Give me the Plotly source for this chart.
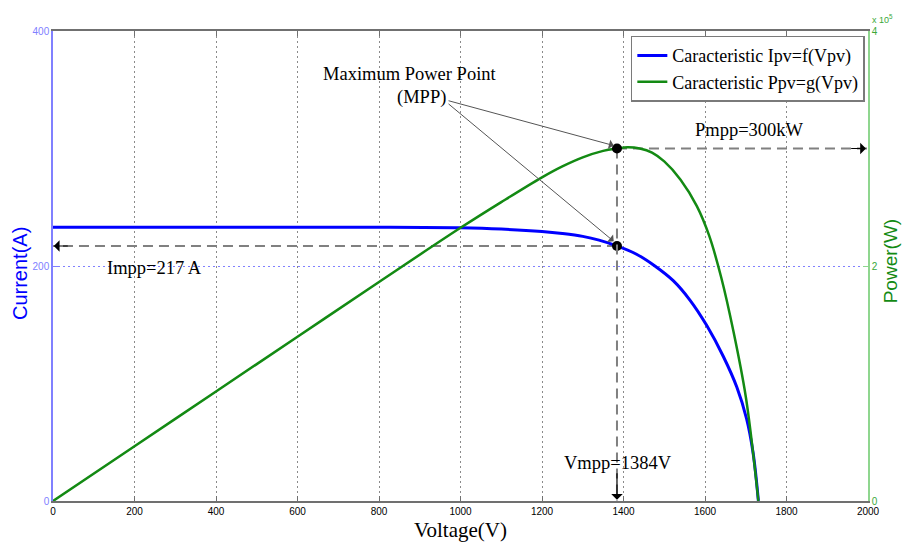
import plotly.graph_objects as go

# I-V characteristic (voltage in V, current in A)
v_current = [0, 200, 400, 600, 800, 1000, 1100, 1200, 1250, 1300, 1340, 1384,
             1432, 1477, 1522, 1563, 1604, 1645, 1678, 1702, 1718, 1731]
current = [233, 233, 233, 233, 233, 232.5, 231.4, 229.3, 227.6, 225.2, 222.0, 217,
           210, 200, 187.5, 171, 149.5, 123, 97, 70, 41, 0]

# P-V characteristic (voltage in V, power in kW)
v_power = [0, 200, 400, 600, 800, 1000, 1100, 1200, 1250, 1300, 1350, 1384, 1410,
           1440, 1470, 1500, 1540, 1580, 1610, 1640, 1670, 1700, 1720, 1731]
power_kw = [0, 46.6, 93.2, 139.8, 186.4, 232.5, 254.4, 275.5, 284.8, 292.5, 298.0,
            300.0, 301.0, 300.0, 296.5, 289, 273.5, 251, 226, 190, 144, 89, 35, 0]

# Maximum power point
v_mpp = 1384
i_mpp = 217
p_mpp_kw = 300

x_ticks = [0, 200, 400, 600, 800, 1000, 1200, 1400, 1600, 1800, 2000]
i_ticks = [0, 200, 400]
p_ticks = [0, 200000, 400000]
p_tick_text = ["0", "2", "4"]

BLUE = "#0000ff"
GREEN = "#138a13"
GRAY = "#808080"
AX_BLUE = "#8080ff"
AX_GREEN = "#8fd68f"
SERIF = "Liberation Serif, Times New Roman, serif"
SANS = "Liberation Sans, Arial, sans-serif"
NARROW = "Liberation Sans Narrow, Liberation Sans, Arial, sans-serif"
LABEL_SIZE = 18.5

power_w = [p * 1000 for p in power_kw]

fig = go.Figure()

# Dashed guide lines through the MPP
guide = dict(color=GRAY, width=2, dash="10px,6px")
fig.add_trace(go.Scatter(x=[v_mpp, 0], y=[i_mpp, i_mpp], mode="lines", line=guide,
                         showlegend=False, hoverinfo="skip"))
fig.add_trace(go.Scatter(x=[v_mpp, 2000], y=[p_mpp_kw * 1000] * 2, mode="lines",
                         line=guide, showlegend=False, hoverinfo="skip", yaxis="y2"))
fig.add_trace(go.Scatter(x=[v_mpp, v_mpp], y=[p_mpp_kw * 1000, 0], mode="lines",
                         line=guide, showlegend=False, hoverinfo="skip", yaxis="y2"))

fig.add_trace(go.Scatter(x=v_current, y=current, mode="lines",
                         name="Caracteristic Ipv=f(Vpv)",
                         line=dict(color=BLUE, width=3, shape="spline", smoothing=1.0)))
fig.add_trace(go.Scatter(x=v_power, y=power_w, mode="lines",
                         name="Caracteristic Ppv=g(Vpv)", yaxis="y2",
                         line=dict(color=GREEN, width=2.5, shape="spline", smoothing=1.0)))

# MPP markers
fig.add_trace(go.Scatter(x=[v_mpp], y=[i_mpp], mode="markers",
                         marker=dict(color="black", size=10),
                         showlegend=False, hoverinfo="skip"))
fig.add_trace(go.Scatter(x=[v_mpp], y=[p_mpp_kw * 1000], mode="markers",
                         marker=dict(color="black", size=10), yaxis="y2",
                         showlegend=False, hoverinfo="skip"))

label_font = dict(family=SERIF, size=LABEL_SIZE, color="black")
annotations = [
    # axis titles
    dict(text="Voltage(V)", x=0.5, y=-0.062, xref="paper", yref="paper",
         showarrow=False, yanchor="middle", font=dict(family=SERIF, size=21, color="black")),
    dict(text="Current(A)", x=-0.0405, y=0.485, xref="paper", yref="paper",
         showarrow=False, textangle=-90, xanchor="center", yanchor="middle",
         font=dict(family=SANS, size=20, color=BLUE)),
    dict(text="Power(W)", x=1.027, y=0.51, xref="paper", yref="paper",
         showarrow=False, textangle=-90, xanchor="center", yanchor="middle",
         font=dict(family=SANS, size=19, color=GREEN)),
    dict(text="x 10<sup>5</sup>", x=1.0, y=1.0, xref="paper", yref="paper",
         showarrow=False, xanchor="left", yanchor="bottom", xshift=2, yshift=4,
         font=dict(family=NARROW, size=9, color="#3aa83a")),
    # MPP labels
    dict(text="Maximum Power Point", x=876, y=363, xref="x", yref="y",
         showarrow=False, xanchor="center", yanchor="middle", font=label_font),
    dict(text="(MPP)", x=905, y=343, xref="x", yref="y",
         showarrow=False, xanchor="center", yanchor="middle", font=label_font),
    dict(text="Pmpp=300kW", x=1708, y=315600, xref="x", yref="y2",
         showarrow=False, xanchor="center", yanchor="middle", font=label_font),
    dict(text="Impp=217 A", x=248, y=198.7, xref="x", yref="y",
         showarrow=False, xanchor="center", yanchor="middle", font=label_font),
    dict(text="Vmpp=1384V", x=1386, y=32.4, xref="x", yref="y",
         showarrow=False, xanchor="center", yanchor="middle", font=label_font),
    # arrows from the MPP label
    dict(text="", x=v_mpp - 8, y=p_mpp_kw * 1000 + 2500, xref="x", yref="y2",
         ax=967, ay=341000, axref="x", ayref="y2", showarrow=True,
         arrowhead=1, arrowsize=1.6, arrowwidth=1, arrowcolor="#555555"),
    dict(text="", x=v_mpp - 8, y=i_mpp + 4, xref="x", yref="y",
         ax=967, ay=339, axref="x", ayref="y", showarrow=True,
         arrowhead=1, arrowsize=1.6, arrowwidth=1, arrowcolor="#555555"),
    # arrowheads at the ends of the dashed guides
    dict(text="", x=2, y=i_mpp, xref="x", yref="y", ax=40, ay=i_mpp,
         axref="x", ayref="y", showarrow=True, arrowhead=1, arrowsize=1.6,
         arrowwidth=1.2, arrowcolor="black"),
    dict(text="", x=1995, y=p_mpp_kw * 1000, xref="x", yref="y2", ax=1955,
         ay=p_mpp_kw * 1000, axref="x", ayref="y2", showarrow=True, arrowhead=1,
         arrowsize=1.6, arrowwidth=1.2, arrowcolor="black"),
    dict(text="", x=v_mpp, y=1, xref="x", yref="y", ax=v_mpp, ay=25,
         axref="x", ayref="y", showarrow=True, arrowhead=1, arrowsize=1.6,
         arrowwidth=1.2, arrowcolor="black"),
]

fig.update_layout(
    width=912, height=547,
    margin=dict(l=53, r=44, t=31, b=46),
    paper_bgcolor="white", plot_bgcolor="white",
    xaxis=dict(range=[0, 2000], tickvals=x_ticks, showgrid=True,
               gridcolor="#8a8a8a", griddash="2px,3px", gridwidth=1,
               showline=True, linecolor="#707070", linewidth=1.5, mirror="ticks",
               ticks="inside", ticklen=5, tickcolor="#707070", zeroline=False,
               tickfont=dict(family=NARROW, size=10, color="black")),
    yaxis=dict(range=[0, 400], tickvals=i_ticks, showgrid=True,
               gridcolor=AX_BLUE, griddash="2px,3px", gridwidth=1.3,
               showline=True, linecolor=AX_BLUE, linewidth=1.5,
               ticks="inside", ticklen=5, tickcolor=AX_BLUE, zeroline=False,
               tickfont=dict(family=NARROW, size=10, color=AX_BLUE)),
    yaxis2=dict(range=[0, 400000], tickvals=p_ticks, ticktext=p_tick_text,
                overlaying="y", side="right", showgrid=False,
                showline=True, linecolor=AX_GREEN, linewidth=1.5,
                ticks="inside", ticklen=5, tickcolor=AX_GREEN, zeroline=False,
                tickfont=dict(family=NARROW, size=10, color="#3aa83a")),
    legend=dict(x=0.709, y=0.99, xanchor="left", yanchor="top",
                bgcolor="white", bordercolor="#7a7a7a", borderwidth=1.5,
                font=dict(family=SERIF, size=18, color="black"),
                tracegroupgap=0, itemwidth=30),
    annotations=annotations,
    showlegend=True,
)

fig.write_html("out.html")
